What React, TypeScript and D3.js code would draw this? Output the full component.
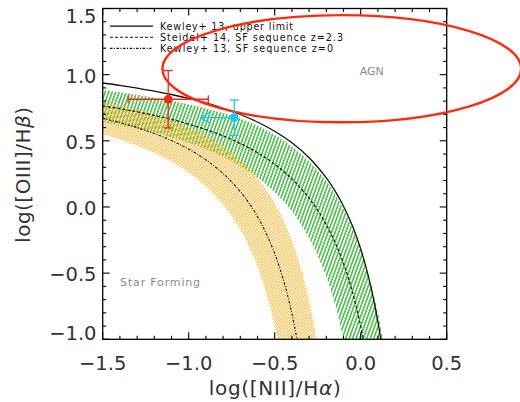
import React from "react";
import * as d3 from "d3";

type P = [number, number];

// Kewley+13 maximum-starburst ("upper limit") line
const kewleyUpperLimit: P[] = [
  [-1.5, 0.937], [-1.4, 0.919], [-1.3, 0.898], [-1.2, 0.876], [-1.1, 0.85], [-1.0, 0.82],
  [-0.9, 0.786], [-0.8, 0.746], [-0.7, 0.699], [-0.6, 0.642], [-0.5, 0.572], [-0.4, 0.485],
  [-0.3, 0.372], [-0.2, 0.22], [-0.15, 0.123], [-0.1, 0.006], [-0.05, -0.137], [0.0, -0.318],
  [0.03, -0.451], [0.06, -0.608], [0.08, -0.73], [0.1, -0.868], [0.117, -1.0],
];

// Steidel+14 SF sequence z=2.3 (centre) and its band
const steidelSeq: P[] = [
  [-1.5, 0.764], [-1.4, 0.743], [-1.3, 0.719], [-1.2, 0.692], [-1.1, 0.662], [-1.0, 0.626],
  [-0.9, 0.585], [-0.8, 0.537], [-0.7, 0.48], [-0.6, 0.41], [-0.5, 0.323], [-0.4, 0.212],
  [-0.3, 0.067], [-0.25, -0.025], [-0.2, -0.134], [-0.15, -0.266], [-0.1, -0.428],
  [-0.06, -0.588], [-0.03, -0.731], [0.0, -0.9], [0.015, -1.0],
];
const steidelUpper: P[] = [
  [-1.5, 0.885], [-1.4, 0.868], [-1.3, 0.848], [-1.2, 0.826], [-1.1, 0.802], [-1.0, 0.776],
  [-0.9, 0.745], [-0.8, 0.71], [-0.7, 0.668], [-0.6, 0.613], [-0.5, 0.545], [-0.4, 0.458],
  [-0.3, 0.345], [-0.2, 0.196], [-0.15, 0.1], [-0.1, -0.015], [-0.05, -0.155], [0.0, -0.325],
  [0.04, -0.488], [0.07, -0.631], [0.1, -0.8], [0.13, -1.0],
];
const steidelLower: P[] = [
  [-1.5, 0.643], [-1.4, 0.619], [-1.3, 0.592], [-1.2, 0.562], [-1.1, 0.526], [-1.0, 0.485],
  [-0.9, 0.437], [-0.8, 0.38], [-0.7, 0.31], [-0.6, 0.223], [-0.5, 0.112], [-0.45, 0.045],
  [-0.4, -0.034], [-0.35, -0.125], [-0.3, -0.234], [-0.25, -0.366], [-0.2, -0.528],
  [-0.16, -0.688], [-0.13, -0.831], [-0.1, -1.0],
];

// Kewley+13 SF sequence z=0 (centre) and its band
const kewleySFSeq: P[] = [
  [-1.5, 0.67], [-1.4, 0.638], [-1.3, 0.6], [-1.2, 0.555], [-1.1, 0.502], [-1.0, 0.437],
  [-0.9, 0.356], [-0.8, 0.253], [-0.75, 0.19], [-0.7, 0.116], [-0.65, 0.03], [-0.6, -0.073],
  [-0.55, -0.198], [-0.5, -0.352], [-0.45, -0.549], [-0.42, -0.694], [-0.4, -0.806],
  [-0.38, -0.933], [-0.371, -1.0],
];
const kewleySFUpper: P[] = [
  [-1.5, 0.795], [-1.4, 0.768], [-1.3, 0.736], [-1.2, 0.698], [-1.1, 0.654], [-1.0, 0.601],
  [-0.9, 0.537], [-0.8, 0.456], [-0.7, 0.353], [-0.65, 0.29], [-0.6, 0.216], [-0.55, 0.13],
  [-0.5, 0.027], [-0.45, -0.098], [-0.4, -0.252], [-0.35, -0.449], [-0.32, -0.594],
  [-0.3, -0.706], [-0.28, -0.833], [-0.257, -1.0],
];
const kewleySFLower: P[] = [
  [-1.5, 0.55], [-1.4, 0.51], [-1.3, 0.463], [-1.2, 0.408], [-1.1, 0.341], [-1.0, 0.258],
  [-0.95, 0.209], [-0.9, 0.153], [-0.85, 0.09], [-0.8, 0.016], [-0.75, -0.07], [-0.7, -0.173],
  [-0.65, -0.298], [-0.6, -0.452], [-0.55, -0.649], [-0.52, -0.794], [-0.5, -0.906],
  [-0.485, -1.0],
];

// AGN ellipse (centre, radii in data units)
const agnCenter: P = [-0.11, 1.045];
const agnRadii: P = [1.043, 0.405];

// measured points
const redPoint = { x: -1.119, y: 0.814, xErr: 0.233, yErr: 0.217 };
const cyanPoint = { x: -0.735, y: 0.675, yErr: 0.133, xLimitTo: -0.933 };

const xMajorTicks = [-1.5, -1.0, -0.5, 0.0, 0.5];
const xTickLabels = ["\u22121.5", "\u22121.0", "\u22120.5", "0.0", "0.5"];
const yMajorTicks = [-1.0, -0.5, 0.0, 0.5, 1.0, 1.5];
const yTickLabels = ["\u22121.0", "\u22120.5", "0.0", "0.5", "1.0", "1.5"];
const xMinorTicks = [-1.4, -1.3, -1.2, -1.1, -0.9, -0.8, -0.7, -0.6, -0.4, -0.3, -0.2, -0.1, 0.1, 0.2, 0.3, 0.4];
const yMinorTicks = [-0.9, -0.8, -0.7, -0.6, -0.4, -0.3, -0.2, -0.1, 0.1, 0.2, 0.3, 0.4, 0.6, 0.7, 0.8, 0.9, 1.1, 1.2, 1.3, 1.4];

const legendLabels = [
  "Kewley+ 13, upper limit",
  "Steidel+ 14, SF sequence z=2.3",
  "Kewley+ 13, SF sequence z=0",
];
const legendWidths = [133, 183, 173];

const W = 520, H = 402;
const L = 102.7, R = 446.7, T = 8.5, B = 339.3;

export default function App() {
  const x = d3.scaleLinear().domain([-1.5, 0.5]).range([L, R]);
  const y = d3.scaleLinear().domain([-1.0, 1.5]).range([B, T]);

  const line = d3
    .line<P>()
    .x((d) => x(d[0]))
    .y((d) => y(d[1]))
    .curve(d3.curveCatmullRom);

  const band = (upper: P[], lower: P[]) => {
    const a = line(upper) as string;
    const b = (line([...lower].reverse()) as string).replace(/^M/, "L");
    return a + b + "Z";
  };

  const majLen = 7, minLen = 3.5;
  const font = "DejaVu Sans, sans-serif";

  const rx = x(agnCenter[0] + agnRadii[0]) - x(agnCenter[0]);
  const ry = y(agnCenter[1]) - y(agnCenter[1] + agnRadii[1]);

  const red = "#f52814";
  const cyan = "#1ec8ee";
  const legendRows = [26.2, 37.3, 48.4];

  return (
    <svg
      width={W}
      height={H}
      style={{ position: "absolute", left: 0, top: 0, background: "#fff" }}
      fontFamily={font}
    >
      <defs>
        <clipPath id="plotClip">
          <rect x={L} y={T} width={R - L} height={B - T} />
        </clipPath>
        <pattern id="hatchGreen" patternUnits="userSpaceOnUse" width={3.3} height={10} patternTransform="rotate(20)">
          <line x1={1.65} y1={0} x2={1.65} y2={10} stroke="#22b022" strokeWidth={1.3} />
        </pattern>
        <pattern id="hatchOrange" patternUnits="userSpaceOnUse" width={2.3} height={10} patternTransform="rotate(45)">
          <line x1={1.15} y1={0} x2={1.15} y2={10} stroke="#ffb42c" strokeWidth={1.05} />
        </pattern>
      </defs>

      <g clipPath="url(#plotClip)">
        <path d={band(steidelUpper, steidelLower)} fill="url(#hatchGreen)" stroke="none" />
        <path d={band(kewleySFUpper, kewleySFLower)} fill="url(#hatchOrange)" stroke="none" />
        <path d={line(kewleyUpperLimit) as string} fill="none" stroke="#111" strokeWidth={1.3} />
        <path d={line(steidelSeq) as string} fill="none" stroke="#111" strokeWidth={1.2} strokeDasharray="3,2" />
        <path d={line(kewleySFSeq) as string} fill="none" stroke="#111" strokeWidth={1.1} strokeDasharray="2.5,1.5,1,1.5" />
      </g>

      {/* frame */}
      <rect x={L} y={T} width={R - L} height={B - T} fill="none" stroke="#000" strokeWidth={1.3} />

      {/* ticks */}
      <g stroke="#000" strokeWidth={1.1}>
        {xMajorTicks.map((v) => (
          <g key={"xm" + v}>
            <line x1={x(v)} x2={x(v)} y1={B} y2={B - majLen} />
            <line x1={x(v)} x2={x(v)} y1={T} y2={T + majLen} />
          </g>
        ))}
        {xMinorTicks.map((v) => (
          <g key={"xn" + v}>
            <line x1={x(v)} x2={x(v)} y1={B} y2={B - minLen} />
            <line x1={x(v)} x2={x(v)} y1={T} y2={T + minLen} />
          </g>
        ))}
        {yMajorTicks.map((v) => (
          <g key={"ym" + v}>
            <line x1={L} x2={L + majLen} y1={y(v)} y2={y(v)} />
            <line x1={R} x2={R - majLen} y1={y(v)} y2={y(v)} />
          </g>
        ))}
        {yMinorTicks.map((v) => (
          <g key={"yn" + v}>
            <line x1={L} x2={L + minLen} y1={y(v)} y2={y(v)} />
            <line x1={R} x2={R - minLen} y1={y(v)} y2={y(v)} />
          </g>
        ))}
      </g>

      {/* tick labels */}
      <g fill="#333" fontSize={19.5}>
        {xMajorTicks.map((v, i) => (
          <text key={"xl" + v} x={x(v)} y={370} textAnchor="middle">
            {xTickLabels[i]}
          </text>
        ))}
        {yMajorTicks.map((v, i) => (
          <text
            key={"yl" + v}
            x={96.5}
            y={Math.max(T + 14.3, Math.min(B + 0.7, y(v) + 8))}
            textAnchor="end"
          >
            {yTickLabels[i]}
          </text>
        ))}
      </g>

      {/* axis titles */}
      <text x={(L + R) / 2} y={395} textAnchor="middle" fontSize={20} fill="#333" textLength={132} lengthAdjust="spacing">
        log([NII]/H<tspan fontStyle="italic">α</tspan>)
      </text>
      <text
        transform={`translate(30,${(T + B) / 2 + 1}) rotate(-90)`}
        textAnchor="middle"
        fontSize={20}
        fill="#333"
        textLength={136}
        lengthAdjust="spacing"
      >
        log([OIII]/H<tspan fontStyle="italic">β</tspan>)
      </text>

      {/* region labels */}
      <text x={x(0.064)} y={y(1.028) + 4} textAnchor="middle" fontSize={11} fill="#8a8a8a">
        AGN
      </text>
      <text x={x(-1.399)} y={y(-0.57) + 4} fontSize={11} fill="#8a8a8a" textLength={80} lengthAdjust="spacing">
        Star Forming
      </text>

      {/* legend */}
      {legendLabels.map((lab, i) => {
        const ly = legendRows[i];
        const dash = [undefined, "3,2", "2.5,1.5,1,1.5"][i];
        return (
          <g key={lab}>
            <line x1={110} x2={153} y1={ly} y2={ly} stroke="#111" strokeWidth={i === 0 ? 1.3 : 1.1} strokeDasharray={dash} />
            <text x={160} y={ly + 3.6} fontSize={9.6} fill="#111" textLength={legendWidths[i]} lengthAdjust="spacing">
              {lab}
            </text>
          </g>
        );
      })}

      {/* AGN ellipse */}
      <ellipse cx={x(agnCenter[0])} cy={y(agnCenter[1])} rx={rx} ry={ry} fill="none" stroke="#ff2a0c" strokeWidth={2.4} />

      {/* red point with error bars */}
      <g stroke={red} strokeWidth={1.3}>
        <line x1={x(redPoint.x - redPoint.xErr)} x2={x(redPoint.x + redPoint.xErr)} y1={y(redPoint.y)} y2={y(redPoint.y)} />
        <line x1={x(redPoint.x - redPoint.xErr)} x2={x(redPoint.x - redPoint.xErr)} y1={y(redPoint.y) - 4} y2={y(redPoint.y) + 4} />
        <line x1={x(redPoint.x + redPoint.xErr)} x2={x(redPoint.x + redPoint.xErr)} y1={y(redPoint.y) - 4} y2={y(redPoint.y) + 4} />
        <line x1={x(redPoint.x)} x2={x(redPoint.x)} y1={y(redPoint.y - redPoint.yErr)} y2={y(redPoint.y + redPoint.yErr)} />
        <line x1={x(redPoint.x) - 4.5} x2={x(redPoint.x) + 4.5} y1={y(redPoint.y + redPoint.yErr)} y2={y(redPoint.y + redPoint.yErr)} />
        <line x1={x(redPoint.x) - 4.5} x2={x(redPoint.x) + 4.5} y1={y(redPoint.y - redPoint.yErr)} y2={y(redPoint.y - redPoint.yErr)} />
      </g>
      <circle cx={x(redPoint.x)} cy={y(redPoint.y)} r={4.4} fill={red} />

      {/* cyan point: y error + upper-limit arrow in x */}
      <g stroke={cyan} strokeWidth={1.3} fill="none">
        <line x1={x(cyanPoint.x)} x2={x(cyanPoint.x)} y1={y(cyanPoint.y - cyanPoint.yErr)} y2={y(cyanPoint.y + cyanPoint.yErr)} />
        <line x1={x(cyanPoint.x) - 4.5} x2={x(cyanPoint.x) + 4.5} y1={y(cyanPoint.y + cyanPoint.yErr)} y2={y(cyanPoint.y + cyanPoint.yErr)} />
        <line x1={x(cyanPoint.x) - 4.5} x2={x(cyanPoint.x) + 4.5} y1={y(cyanPoint.y - cyanPoint.yErr)} y2={y(cyanPoint.y - cyanPoint.yErr)} />
        <line x1={x(cyanPoint.x)} x2={x(cyanPoint.xLimitTo)} y1={y(cyanPoint.y)} y2={y(cyanPoint.y)} />
        <polyline
          points={`${x(cyanPoint.xLimitTo) + 10},${y(cyanPoint.y) - 5.5} ${x(cyanPoint.xLimitTo)},${y(cyanPoint.y)} ${x(cyanPoint.xLimitTo) + 10},${y(cyanPoint.y) + 5.5}`}
        />
      </g>
      <circle cx={x(cyanPoint.x)} cy={y(cyanPoint.y)} r={4.4} fill={cyan} />
    </svg>
  );
}
